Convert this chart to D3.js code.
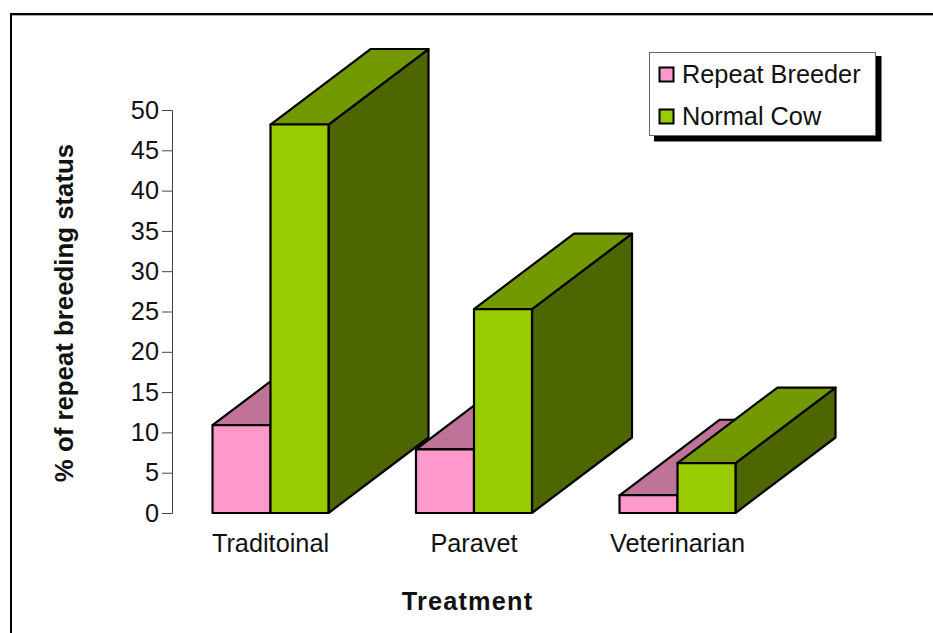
<!DOCTYPE html>
<html>
<head>
<meta charset="utf-8">
<script src="https://cdn.jsdelivr.net/npm/d3@7"></script>
<style>
  html, body { margin: 0; padding: 0; background: #fff; }
  svg { display: block; }
  text { font-family: "Liberation Sans", Arial, sans-serif; fill: #111; }
</style>
</head>
<body>
<div id="chart"></div>
<script>
var categories = ["Traditoinal", "Paravet", "Veterinarian"];
var seriesNames = ["Repeat Breeder", "Normal Cow"];
var repeatBreeder = [10.9, 7.9, 2.2];
var normalCow = [48.2, 25.3, 6.2];
var yTicks = [0, 5, 10, 15, 20, 25, 30, 35, 40, 45, 50];

var width = 933;
var height = 633;
var depthX = 100;
var depthY = -75.5;

var colors = {
    "Repeat Breeder": { front: "#ff99cc", top: "#bf7399", side: "#804d66" },
    "Normal Cow": { front: "#99cc00", top: "#739900", side: "#4d6600" }
};

var svg = d3.select("#chart")
            .append("svg")
            .attr("width", width)
            .attr("height", height);

// outer frame, open at the bottom and cut off on the right
svg.append("line")
    .attr("x1", 12).attr("y1", 15.5)
    .attr("x2", 933).attr("y2", 15.5)
    .attr("stroke", "#aaa")
    .attr("stroke-width", 1);
svg.append("path")
    .attr("d", d3.line()([[11, 633], [11, 14], [933, 14]]))
    .attr("fill", "none")
    .attr("stroke", "#000")
    .attr("stroke-width", 2);

var y = d3.scaleLinear().domain([0, 50]).range([513, 110]);
var x = d3.scaleBand().domain(categories).range([168.75, 779.25]).paddingInner(0.43).paddingOuter(0.215);
var xSeries = d3.scaleBand().domain(seriesNames).range([0, x.bandwidth()]);

// y axis
var yAxis = d3.axisLeft(y).tickValues(yTicks).tickSize(10).tickPadding(3).tickFormat(d3.format("d"));
var axisG = svg.append("g")
    .attr("transform", "translate(172,0)")
    .call(yAxis);
axisG.selectAll("path, line").attr("stroke", "#444").attr("stroke-width", 1);
axisG.selectAll("text").style("font-size", "25.3px").attr("fill", "#111");

function drawBox(g, cat, name, value) {
    var x0 = x(cat) + xSeries(name);
    var x1 = x0 + xSeries.bandwidth();
    var y0 = y(0);
    var y1 = y(value);
    var c = colors[name];
    var line = d3.line();
    var box = g.append("g")
        .attr("stroke", "#000")
        .attr("stroke-width", 2.2)
        .attr("stroke-linejoin", "round");
    box.append("path")
        .attr("d", line([[x1, y0], [x1 + depthX, y0 + depthY], [x1 + depthX, y1 + depthY], [x1, y1]]) + "Z")
        .attr("fill", c.side);
    box.append("path")
        .attr("d", line([[x0, y1], [x1, y1], [x1 + depthX, y1 + depthY], [x0 + depthX, y1 + depthY]]) + "Z")
        .attr("fill", c.top);
    box.append("path")
        .attr("d", line([[x0, y0], [x1, y0], [x1, y1], [x0, y1]]) + "Z")
        .attr("fill", c.front);
}

var bars = svg.append("g");
categories.forEach(function(cat, i) {
    drawBox(bars, cat, "Repeat Breeder", repeatBreeder[i]);
    drawBox(bars, cat, "Normal Cow", normalCow[i]);
});

// category labels
svg.selectAll(".catLabel")
    .data(categories)
    .enter()
    .append("text")
    .attr("class", "catLabel")
    .attr("x", d => x(d) + x.bandwidth() / 2)
    .attr("y", 552)
    .attr("text-anchor", "middle")
    .style("font-size", "25.3px")
    .text(d => d);

// axis titles
svg.append("text")
    .attr("x", 467.5)
    .attr("y", 610)
    .attr("text-anchor", "middle")
    .style("font-size", "25.3px")
    .style("font-weight", "bold")
    .style("letter-spacing", "1.2px")
    .text("Treatment");

svg.append("text")
    .attr("transform", "translate(73,313) rotate(-90)")
    .attr("text-anchor", "middle")
    .style("font-size", "25.8px")
    .style("font-weight", "bold")
    .text("% of repeat breeding status");

// legend
var legend = svg.append("g");
legend.append("rect")
    .attr("x", 654).attr("y", 56)
    .attr("width", 227.5).attr("height", 85.5)
    .attr("fill", "#000");
legend.append("rect")
    .attr("x", 649.5).attr("y", 52.5)
    .attr("width", 226).attr("height", 83)
    .attr("fill", "#fff")
    .attr("stroke", "#666")
    .attr("stroke-width", 1);

var legendY = d3.scalePoint().domain(seriesNames).range([75, 117]);
seriesNames.forEach(function(name) {
    legend.append("rect")
        .attr("x", 659.5)
        .attr("y", legendY(name) - 7.5)
        .attr("width", 14)
        .attr("height", 14)
        .attr("fill", colors[name].front)
        .attr("stroke", "#000")
        .attr("stroke-width", 2);
    legend.append("text")
        .attr("x", 682)
        .attr("y", legendY(name) + 8)
        .style("font-size", "25.3px")
        .text(name);
});
</script>
</body>
</html>
